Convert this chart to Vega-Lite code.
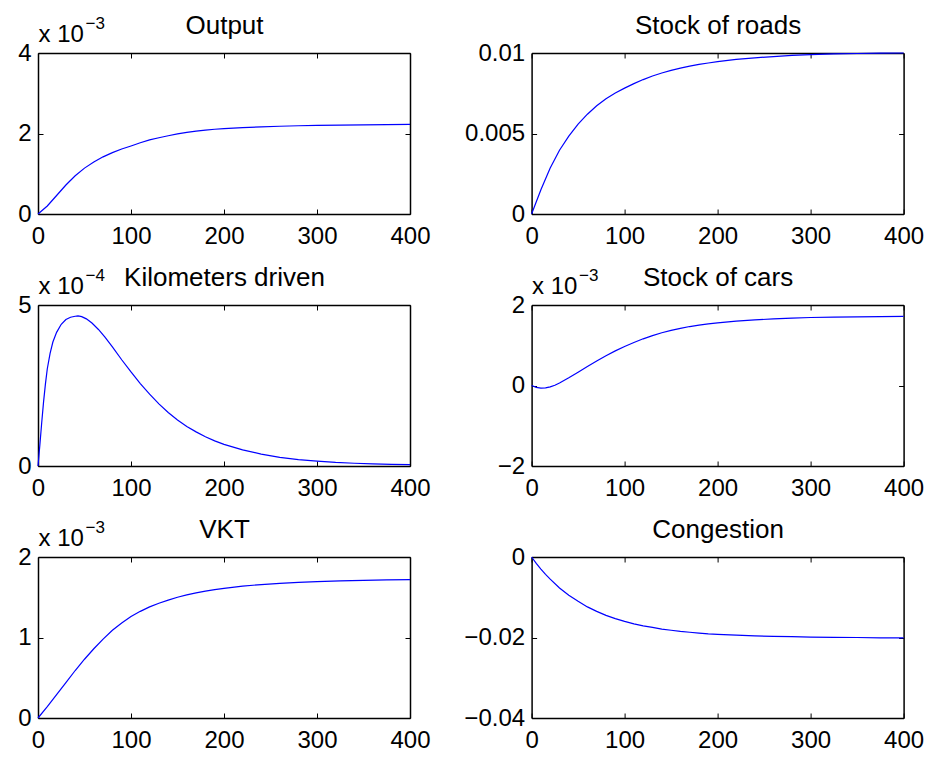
{
  "$schema": "https://vega.github.io/schema/vega-lite/v6.json",
  "background": "white",
  "padding": {"left": 17, "top": 12, "right": 2, "bottom": 2},
  "bounds": "flush",
  "columns": 2,
  "spacing": {"row": 91, "column": 121.6},
  "datasets": {
    "output": [
      {"t":0,"v":0},{"t":10,"v":0.0002},{"t":20,"v":0.00046},{"t":30,"v":0.00072},{"t":40,"v":0.00095},{"t":50,"v":0.00114},{"t":60,"v":0.00129},{"t":70,"v":0.00142},{"t":80,"v":0.001525},{"t":90,"v":0.001615},{"t":100,"v":0.00169},{"t":110,"v":0.00177},{"t":120,"v":0.00184},{"t":130,"v":0.001895},{"t":140,"v":0.001945},{"t":150,"v":0.00199},{"t":160,"v":0.00203},{"t":170,"v":0.00206},{"t":180,"v":0.002085},{"t":190,"v":0.002105},{"t":200,"v":0.00212},{"t":220,"v":0.002145},{"t":240,"v":0.002165},{"t":260,"v":0.00218},{"t":280,"v":0.002192},{"t":300,"v":0.0022},{"t":325,"v":0.002208},{"t":350,"v":0.002215},{"t":375,"v":0.00222},{"t":400,"v":0.002225}
    ],
    "roads": [
      {"t":0,"v":0},{"t":10,"v":0.0015},{"t":20,"v":0.00286},{"t":30,"v":0.00396},{"t":40,"v":0.00484},{"t":50,"v":0.00558},{"t":60,"v":0.0062},{"t":70,"v":0.00672},{"t":80,"v":0.00716},{"t":90,"v":0.00752},{"t":100,"v":0.00782},{"t":110,"v":0.0081},{"t":120,"v":0.00835},{"t":130,"v":0.00857},{"t":140,"v":0.00876},{"t":150,"v":0.00892},{"t":160,"v":0.00906},{"t":170,"v":0.00918},{"t":180,"v":0.00929},{"t":190,"v":0.00938},{"t":200,"v":0.00946},{"t":220,"v":0.0096},{"t":240,"v":0.0097},{"t":260,"v":0.00978},{"t":280,"v":0.00985},{"t":300,"v":0.0099},{"t":325,"v":0.00994},{"t":350,"v":0.00997},{"t":375,"v":0.00999},{"t":400,"v":0.01}
    ],
    "km": [
      {"t":0,"v":0},{"t":2,"v":0.000065},{"t":4,"v":0.000135},{"t":6,"v":0.0002},{"t":8,"v":0.000255},{"t":10,"v":0.000302},{"t":13,"v":0.00035},{"t":16,"v":0.000385},{"t":20,"v":0.000415},{"t":25,"v":0.00044},{"t":30,"v":0.000455},{"t":35,"v":0.000462},{"t":40,"v":0.000465},{"t":43,"v":0.000466},{"t":47,"v":0.000464},{"t":52,"v":0.000457},{"t":58,"v":0.000444},{"t":65,"v":0.000424},{"t":72,"v":0.0004},{"t":80,"v":0.00037},{"t":90,"v":0.00033},{"t":100,"v":0.000292},{"t":110,"v":0.000256},{"t":120,"v":0.000223},{"t":130,"v":0.000193},{"t":140,"v":0.000166},{"t":150,"v":0.000143},{"t":160,"v":0.000123},{"t":170,"v":0.000106},{"t":180,"v":0.000091},{"t":190,"v":0.000078},{"t":200,"v":0.000067},{"t":220,"v":0.00005},{"t":240,"v":0.000037},{"t":260,"v":0.000027},{"t":280,"v":0.00002},{"t":300,"v":0.000015},{"t":320,"v":0.000011},{"t":340,"v":0.0000085},{"t":360,"v":0.0000065},{"t":380,"v":0.000005},{"t":400,"v":0.000004}
    ],
    "cars": [
      {"t":0,"v":0},{"t":5,"v":-0.000045},{"t":10,"v":-0.000065},{"t":15,"v":-0.00006},{"t":20,"v":-0.000035},{"t":25,"v":0.000005},{"t":30,"v":0.00006},{"t":40,"v":0.00019},{"t":50,"v":0.00033},{"t":60,"v":0.00047},{"t":70,"v":0.00061},{"t":80,"v":0.00074},{"t":90,"v":0.00086},{"t":100,"v":0.00097},{"t":110,"v":0.00107},{"t":120,"v":0.00116},{"t":130,"v":0.00124},{"t":140,"v":0.00131},{"t":150,"v":0.00137},{"t":160,"v":0.00142},{"t":170,"v":0.001465},{"t":180,"v":0.0015},{"t":190,"v":0.00153},{"t":200,"v":0.001555},{"t":220,"v":0.001597},{"t":240,"v":0.00163},{"t":260,"v":0.001655},{"t":280,"v":0.001675},{"t":300,"v":0.00169},{"t":325,"v":0.0017},{"t":350,"v":0.001707},{"t":375,"v":0.001712},{"t":400,"v":0.001715}
    ],
    "vkt": [
      {"t":0,"v":0},{"t":10,"v":0.00014},{"t":20,"v":0.00029},{"t":30,"v":0.00044},{"t":40,"v":0.00059},{"t":50,"v":0.00073},{"t":60,"v":0.00086},{"t":70,"v":0.00098},{"t":80,"v":0.00109},{"t":90,"v":0.00118},{"t":100,"v":0.00126},{"t":110,"v":0.001325},{"t":120,"v":0.00138},{"t":130,"v":0.001425},{"t":140,"v":0.001465},{"t":150,"v":0.0015},{"t":160,"v":0.00153},{"t":170,"v":0.001555},{"t":180,"v":0.001577},{"t":190,"v":0.001595},{"t":200,"v":0.00161},{"t":220,"v":0.001638},{"t":240,"v":0.001658},{"t":260,"v":0.001673},{"t":280,"v":0.001686},{"t":300,"v":0.001695},{"t":325,"v":0.001704},{"t":350,"v":0.00171},{"t":375,"v":0.001715},{"t":400,"v":0.00172}
    ],
    "cong": [
      {"t":0,"v":0},{"t":5,"v":-0.0016},{"t":10,"v":-0.003},{"t":15,"v":-0.0043},{"t":20,"v":-0.0055},{"t":30,"v":-0.0077},{"t":40,"v":-0.0095},{"t":50,"v":-0.011},{"t":60,"v":-0.0124},{"t":70,"v":-0.0135},{"t":80,"v":-0.0145},{"t":90,"v":-0.0153},{"t":100,"v":-0.016},{"t":110,"v":-0.0166},{"t":120,"v":-0.0171},{"t":130,"v":-0.0175},{"t":140,"v":-0.0179},{"t":150,"v":-0.0182},{"t":160,"v":-0.0185},{"t":170,"v":-0.0187},{"t":180,"v":-0.0189},{"t":190,"v":-0.0191},{"t":200,"v":-0.0192},{"t":220,"v":-0.0194},{"t":240,"v":-0.0196},{"t":260,"v":-0.0197},{"t":280,"v":-0.0198},{"t":300,"v":-0.0199},{"t":325,"v":-0.01995},{"t":350,"v":-0.02},{"t":375,"v":-0.0201},{"t":400,"v":-0.0201}
    ]
  },
  "concat": [
    {
      "width": 372, "height": 161,
      "data": {"name": "output"},
      "layer": [
        {"mark": {"type": "line", "color": "#0000ff", "strokeWidth": 1.2},
         "encoding": {
           "x": {"field": "t", "type": "quantitative", "scale": {"domain": [0, 400], "nice": false, "zero": false}, "axis": {"orient": "bottom", "values": [0, 100, 200, 300, 400], "title": null}},
           "y": {"field": "v", "type": "quantitative", "scale": {"domain": [0, 0.004], "nice": false, "zero": false}, "axis": {"orient": "left", "values": [0, 0.002, 0.004], "labelExpr": "format(datum.value*1000, '~g')", "title": "x 10", "titleX": 0, "titleY": -12, "titleAngle": 0, "titleAlign": "left", "titleBaseline": "alphabetic", "titleFontSize": 24}}
         }},
        {"mark": {"type": "line", "opacity": 0},
         "encoding": {
           "x": {"field": "t", "type": "quantitative", "axis": {"orient": "top", "values": [0, 100, 200, 300, 400], "labels": false, "title": "Output", "titleX": 186, "titleY": -20, "titleAngle": 0, "titleAlign": "center", "titleBaseline": "alphabetic", "titleFontSize": 26}},
           "y": {"field": "v", "type": "quantitative", "axis": {"orient": "right", "values": [0, 0.002, 0.004], "labels": false, "title": "−3", "titleX": -325, "titleY": -25, "titleAngle": 0, "titleAlign": "left", "titleBaseline": "alphabetic", "titleFontSize": 17}}
         }}
      ],
      "resolve": {"axis": {"x": "independent", "y": "independent"}}
    },
    {
      "width": 372, "height": 161,
      "data": {"name": "roads"},
      "layer": [
        {"mark": {"type": "line", "color": "#0000ff", "strokeWidth": 1.2},
         "encoding": {
           "x": {"field": "t", "type": "quantitative", "scale": {"domain": [0, 400], "nice": false, "zero": false}, "axis": {"orient": "bottom", "values": [0, 100, 200, 300, 400], "title": null}},
           "y": {"field": "v", "type": "quantitative", "scale": {"domain": [0, 0.01], "nice": false, "zero": false}, "axis": {"orient": "left", "values": [0, 0.005, 0.01], "format": "~g", "title": null}}
         }},
        {"mark": {"type": "line", "opacity": 0},
         "encoding": {
           "x": {"field": "t", "type": "quantitative", "axis": {"orient": "top", "values": [0, 100, 200, 300, 400], "labels": false, "title": "Stock of roads", "titleX": 186, "titleY": -20, "titleAngle": 0, "titleAlign": "center", "titleBaseline": "alphabetic", "titleFontSize": 26}},
           "y": {"field": "v", "type": "quantitative", "axis": {"orient": "right", "values": [0, 0.005, 0.01], "labels": false, "title": null}}
         }}
      ],
      "resolve": {"axis": {"x": "independent", "y": "independent"}}
    },
    {
      "width": 372, "height": 161,
      "data": {"name": "km"},
      "layer": [
        {"mark": {"type": "line", "color": "#0000ff", "strokeWidth": 1.2},
         "encoding": {
           "x": {"field": "t", "type": "quantitative", "scale": {"domain": [0, 400], "nice": false, "zero": false}, "axis": {"orient": "bottom", "values": [0, 100, 200, 300, 400], "title": null}},
           "y": {"field": "v", "type": "quantitative", "scale": {"domain": [0, 0.0005], "nice": false, "zero": false}, "axis": {"orient": "left", "values": [0, 0.0005], "labelExpr": "format(datum.value*10000, '~g')", "title": "x 10", "titleX": 0, "titleY": -12, "titleAngle": 0, "titleAlign": "left", "titleBaseline": "alphabetic", "titleFontSize": 24}}
         }},
        {"mark": {"type": "line", "opacity": 0},
         "encoding": {
           "x": {"field": "t", "type": "quantitative", "axis": {"orient": "top", "values": [0, 100, 200, 300, 400], "labels": false, "title": "Kilometers driven", "titleX": 186, "titleY": -20, "titleAngle": 0, "titleAlign": "center", "titleBaseline": "alphabetic", "titleFontSize": 26}},
           "y": {"field": "v", "type": "quantitative", "axis": {"orient": "right", "values": [0, 0.0005], "labels": false, "title": "−4", "titleX": -325, "titleY": -25, "titleAngle": 0, "titleAlign": "left", "titleBaseline": "alphabetic", "titleFontSize": 17}}
         }}
      ],
      "resolve": {"axis": {"x": "independent", "y": "independent"}}
    },
    {
      "width": 372, "height": 161,
      "data": {"name": "cars"},
      "layer": [
        {"mark": {"type": "line", "color": "#0000ff", "strokeWidth": 1.2},
         "encoding": {
           "x": {"field": "t", "type": "quantitative", "scale": {"domain": [0, 400], "nice": false, "zero": false}, "axis": {"orient": "bottom", "values": [0, 100, 200, 300, 400], "title": null}},
           "y": {"field": "v", "type": "quantitative", "scale": {"domain": [-0.002, 0.002], "nice": false, "zero": false}, "axis": {"orient": "left", "values": [-0.002, 0, 0.002], "labelExpr": "format(datum.value*1000, '~g')", "title": "x 10", "titleX": 0, "titleY": -12, "titleAngle": 0, "titleAlign": "left", "titleBaseline": "alphabetic", "titleFontSize": 24}}
         }},
        {"mark": {"type": "line", "opacity": 0},
         "encoding": {
           "x": {"field": "t", "type": "quantitative", "axis": {"orient": "top", "values": [0, 100, 200, 300, 400], "labels": false, "title": "Stock of cars", "titleX": 186, "titleY": -20, "titleAngle": 0, "titleAlign": "center", "titleBaseline": "alphabetic", "titleFontSize": 26}},
           "y": {"field": "v", "type": "quantitative", "axis": {"orient": "right", "values": [-0.002, 0, 0.002], "labels": false, "title": "−3", "titleX": -325, "titleY": -25, "titleAngle": 0, "titleAlign": "left", "titleBaseline": "alphabetic", "titleFontSize": 17}}
         }}
      ],
      "resolve": {"axis": {"x": "independent", "y": "independent"}}
    },
    {
      "width": 372, "height": 161,
      "data": {"name": "vkt"},
      "layer": [
        {"mark": {"type": "line", "color": "#0000ff", "strokeWidth": 1.2},
         "encoding": {
           "x": {"field": "t", "type": "quantitative", "scale": {"domain": [0, 400], "nice": false, "zero": false}, "axis": {"orient": "bottom", "values": [0, 100, 200, 300, 400], "title": null}},
           "y": {"field": "v", "type": "quantitative", "scale": {"domain": [0, 0.002], "nice": false, "zero": false}, "axis": {"orient": "left", "values": [0, 0.001, 0.002], "labelExpr": "format(datum.value*1000, '~g')", "title": "x 10", "titleX": 0, "titleY": -12, "titleAngle": 0, "titleAlign": "left", "titleBaseline": "alphabetic", "titleFontSize": 24}}
         }},
        {"mark": {"type": "line", "opacity": 0},
         "encoding": {
           "x": {"field": "t", "type": "quantitative", "axis": {"orient": "top", "values": [0, 100, 200, 300, 400], "labels": false, "title": "VKT", "titleX": 186, "titleY": -20, "titleAngle": 0, "titleAlign": "center", "titleBaseline": "alphabetic", "titleFontSize": 26}},
           "y": {"field": "v", "type": "quantitative", "axis": {"orient": "right", "values": [0, 0.001, 0.002], "labels": false, "title": "−3", "titleX": -325, "titleY": -25, "titleAngle": 0, "titleAlign": "left", "titleBaseline": "alphabetic", "titleFontSize": 17}}
         }}
      ],
      "resolve": {"axis": {"x": "independent", "y": "independent"}}
    },
    {
      "width": 372, "height": 161,
      "data": {"name": "cong"},
      "layer": [
        {"mark": {"type": "line", "color": "#0000ff", "strokeWidth": 1.2},
         "encoding": {
           "x": {"field": "t", "type": "quantitative", "scale": {"domain": [0, 400], "nice": false, "zero": false}, "axis": {"orient": "bottom", "values": [0, 100, 200, 300, 400], "title": null}},
           "y": {"field": "v", "type": "quantitative", "scale": {"domain": [-0.04, 0], "nice": false, "zero": false}, "axis": {"orient": "left", "values": [-0.04, -0.02, 0], "format": "~g", "title": null}}
         }},
        {"mark": {"type": "line", "opacity": 0},
         "encoding": {
           "x": {"field": "t", "type": "quantitative", "axis": {"orient": "top", "values": [0, 100, 200, 300, 400], "labels": false, "title": "Congestion", "titleX": 186, "titleY": -20, "titleAngle": 0, "titleAlign": "center", "titleBaseline": "alphabetic", "titleFontSize": 26}},
           "y": {"field": "v", "type": "quantitative", "axis": {"orient": "right", "values": [-0.04, -0.02, 0], "labels": false, "title": null}}
         }}
      ],
      "resolve": {"axis": {"x": "independent", "y": "independent"}}
    }
  ],
  "config": {
    "view": {"stroke": null},
    "font": "Liberation Sans",
    "axis": {
      "grid": false,
      "domain": true,
      "domainColor": "#000000",
      "domainWidth": 1.5,
      "ticks": true,
      "tickSize": -5,
      "tickColor": "#000000",
      "tickWidth": 1,
      "labelFont": "Liberation Sans",
      "labelFontSize": 24,
      "labelColor": "#000000",
      "labelFlush": false,
      "labelOverlap": false,
      "titleFont": "Liberation Sans",
      "titleFontWeight": "normal",
      "titleColor": "#000000"
    },
    "axisBottom": {"labelPadding": 15},
    "axisLeft": {"labelPadding": 12}
  }
}
